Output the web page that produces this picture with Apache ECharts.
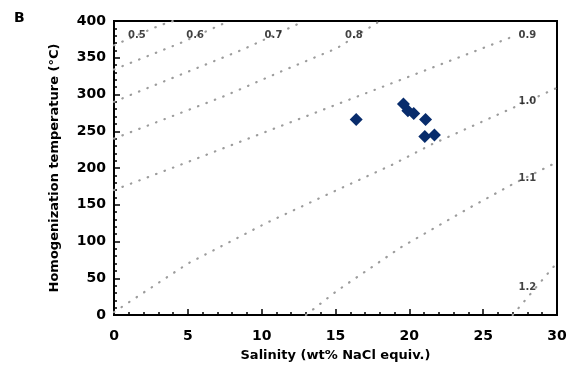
<!DOCTYPE html>
<html>
<head>
<meta charset="utf-8">
<script src="https://cdn.jsdelivr.net/npm/echarts@6/dist/echarts.min.js"></script>
<style>
  html, body { margin: 0; padding: 0; background: #fff; }
  #chart { width: 572px; height: 374px; }
</style>
</head>
<body>
<div id="chart"></div>
<script>
// fluid inclusion measurements
const salinity = [16.4, 19.6, 19.9, 20.3, 21.1, 21.05, 21.7];
const temperature = [266, 287, 278, 274, 266, 243, 245];

// isochores (density, g/cm3)
const iso05 = [[0, 367], [3.1, 394], [4.0, 400]];
const iso06 = [[0, 334], [0.5, 338], [4.5, 370], [7.8, 400]];
const iso07 = [[0, 290], [1.2, 300], [8.7, 361], [12.9, 400]];
const iso08 = [[0, 240], [7.5, 298], [11.4, 332], [15.1, 363], [18, 400]];
const iso09 = [[0, 170], [4.2, 202], [14.9, 285], [27.3, 381]];
const iso10 = [[0, 4], [5, 70], [10.3, 125], [15.1, 170], [18.8, 204], [21.5, 232], [26.7, 279], [30, 309]];
const iso11 = [[13, 0], [15.1, 33], [19.5, 93], [24, 145], [26.9, 177], [30, 208]];
const iso12 = [[27.0, 0], [29.4, 57], [30, 71]];
const isochores = [iso05, iso06, iso07, iso08, iso09, iso10, iso11, iso12];

const isoLabels = ['0.5', '0.6', '0.7', '0.8', '0.9', '1.0', '1.1', '1.2'];
const isoLabelX = [1.55, 5.5, 10.8, 16.25, 28, 28, 28, 28];
const isoLabelY = [381, 381, 381, 381, 381, 291, 186, 37];

const xTicks = [0, 30, 5];
const yTicks = [0, 400, 50];

const font = 'DejaVu Sans, sans-serif';
const myChart = echarts.init(document.getElementById('chart'));

let series = isochores.map(function (pts) {
  return {
    type: 'line',
    data: pts,
    symbol: 'none',
    silent: true,
    lineStyle: {
      color: '#9c9c9c',
      width: 2.2,
      type: [0.5, 8.5],
      cap: 'round'
    },
    z: 1
  };
});

series.push({
  type: 'scatter',
  data: isoLabels.map(function (t, i) { return [isoLabelX[i], isoLabelY[i], t]; }),
  symbolSize: 0,
  silent: true,
  label: {
    show: true,
    position: 'inside',
    formatter: function (p) { return p.data[2]; },
    color: '#111',
    fontSize: 10,
    fontWeight: 'bold',
    fontFamily: font
  },
  z: 2
});

series.push({
  type: 'scatter',
  data: salinity.map(function (s, i) { return [s, temperature[i]]; }),
  symbol: 'diamond',
  symbolSize: 13,
  itemStyle: { color: '#082c6c', opacity: 1 },
  z: 3
});

let option = {
  animation: false,
  title: {
    text: 'B',
    left: 9,
    top: 6,
    textStyle: { fontSize: 14, fontWeight: 'bold', fontFamily: font, color: '#000' }
  },
  grid: {
    left: 114,
    right: 15,
    top: 21,
    bottom: 59,
    show: true,
    borderColor: '#000',
    borderWidth: 2
  },
  xAxis: {
    type: 'value',
    min: xTicks[0],
    max: xTicks[1],
    interval: xTicks[2],
    name: 'Salinity (wt% NaCl equiv.)',
    nameLocation: 'middle',
    nameGap: 34,
    nameTextStyle: { fontSize: 13, fontWeight: 'bold', fontFamily: font, color: '#000' },
    axisLine: { lineStyle: { color: '#000', width: 2 } },
    axisTick: { inside: true, length: 6, lineStyle: { color: '#000', width: 1.5 } },
    minorTick: { show: true, splitNumber: 5, length: 3, lineStyle: { color: '#000', width: 1.5 } },
    axisLabel: { margin: 14, fontSize: 14, fontWeight: 'bold', fontFamily: font, color: '#000' },
    splitLine: { show: false }
  },
  yAxis: {
    type: 'value',
    min: yTicks[0],
    max: yTicks[1],
    interval: yTicks[2],
    name: 'Homogenization temperature (°C)',
    nameLocation: 'middle',
    nameGap: 53,
    nameTextStyle: { fontSize: 13, fontWeight: 'bold', fontFamily: font, color: '#000' },
    axisLine: { lineStyle: { color: '#000', width: 2 } },
    axisTick: { inside: true, length: 6, lineStyle: { color: '#000', width: 1.5 } },
    minorTick: { show: true, splitNumber: 5, length: 3, lineStyle: { color: '#000', width: 1.5 } },
    axisLabel: { margin: 8, fontSize: 14, fontWeight: 'bold', fontFamily: font, color: '#000' },
    splitLine: { show: false }
  },
  series: series
};
myChart.setOption(option);
</script>
</body>
</html>
